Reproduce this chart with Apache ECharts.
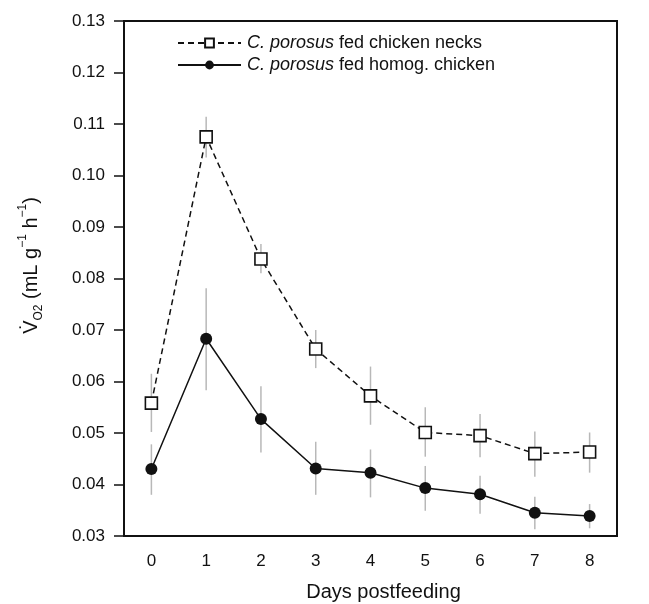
<!DOCTYPE html>
<html>
<head>
<meta charset="utf-8">
<script src="https://cdn.jsdelivr.net/npm/echarts@6/dist/echarts.min.js"></script>
<style>
html, body { margin: 0; padding: 0; background: #fff; }
#chart { width: 649px; height: 604px; }
</style>
</head>
<body>
<div id="chart"></div>
<script>
// days after feeding
var days = ['0', '1', '2', '3', '4', '5', '6', '7', '8'];

// C. porosus fed chicken necks
var necks = [0.0558, 0.1075, 0.0838, 0.0663, 0.0572, 0.0501, 0.0495, 0.0460, 0.0463];
var necksLow = [0.0502, 0.1035, 0.0810, 0.0626, 0.0516, 0.0454, 0.0453, 0.0415, 0.0423];
var necksHigh = [0.0615, 0.1114, 0.0867, 0.0700, 0.0629, 0.0550, 0.0537, 0.0503, 0.0501];

// C. porosus fed homogenised chicken
var homog = [0.0430, 0.0683, 0.0527, 0.0431, 0.0423, 0.0393, 0.0381, 0.0345, 0.0339];
var homogLow = [0.0380, 0.0583, 0.0462, 0.0380, 0.0375, 0.0349, 0.0343, 0.0313, 0.0315];
var homogHigh = [0.0478, 0.0781, 0.0591, 0.0483, 0.0468, 0.0436, 0.0417, 0.0376, 0.0362];

var FONT = 'Liberation Sans';

function errData(low, high) {
    var out = [];
    for (var i = 0; i < low.length; i++) {
        out.push([i, low[i], high[i]]);
    }
    return out;
}

function renderErr(params, api) {
    var p1 = api.coord([api.value(0), api.value(1)]);
    var p2 = api.coord([api.value(0), api.value(2)]);
    return {
        type: 'line',
        shape: { x1: p1[0], y1: p1[1], x2: p2[0], y2: p2[1] },
        style: { stroke: '#b8b8b8', lineWidth: 1.5 }
    };
}

var option = {
    animation: false,
    backgroundColor: '#fff',
    grid: {
        left: 124,
        right: 32,
        top: 21,
        bottom: 68,
        outerBoundsMode: 'none',
        containLabel: false,
        show: true,
        borderColor: '#111',
        borderWidth: 2
    },
    legend: {
        data: ['necks', 'homog'],
        orient: 'vertical',
        left: 172,
        top: 29,
        itemWidth: 63,
        itemHeight: 11,
        itemGap: 4,
        textStyle: {
            fontFamily: FONT,
            fontSize: 18,
            color: '#111',
            padding: [0, 0, 0, 1],
            rich: {
                i: { fontFamily: FONT, fontSize: 18, fontStyle: 'italic', color: '#111' },
                n: { fontFamily: FONT, fontSize: 18, color: '#111' }
            }
        },
        formatter: function (name) {
            if (name === 'necks') return '{i|C. porosus}{n| fed chicken necks}';
            return '{i|C. porosus}{n| fed homog. chicken}';
        }
    },
    xAxis: {
        type: 'category',
        data: days,
        boundaryGap: true,
        name: 'Days postfeeding',
        nameLocation: 'middle',
        nameGap: 46,
        nameTextStyle: { fontFamily: FONT, fontSize: 20, color: '#111', padding: [0, 0, 0, 26] },
        axisLine: { lineStyle: { color: '#111', width: 2 } },
        axisTick: { alignWithLabel: true, length: 10, lineStyle: { color: '#111', width: 1.5 } },
        axisLabel: { fontFamily: FONT, fontSize: 17, color: '#111', margin: 17 },
        splitLine: { show: false }
    },
    yAxis: {
        type: 'value',
        min: 0.03,
        max: 0.13,
        interval: 0.01,
        name: '{t|V̇}{sub|O2}{t| (mL g}{sup|−1}{t| h}{sup|−1}{t|)}',
        nameLocation: 'middle',
        nameRotate: 90,
        nameGap: 79,
        nameTextStyle: {
            fontFamily: FONT,
            fontSize: 20,
            color: '#111',
            padding: [0, 0, 0, 26],
            rich: {
                t: { fontFamily: FONT, fontSize: 20, color: '#111', lineHeight: 28, verticalAlign: 'middle' },
                sub: { fontFamily: FONT, fontSize: 12, color: '#111', lineHeight: 28, verticalAlign: 'bottom' },
                sup: { fontFamily: FONT, fontSize: 12, color: '#111', lineHeight: 28, verticalAlign: 'top' }
            }
        },
        axisLine: { show: true, lineStyle: { color: '#111', width: 2 } },
        axisTick: { show: true, length: 10, lineStyle: { color: '#111', width: 1.5 } },
        axisLabel: {
            fontFamily: FONT,
            fontSize: 17,
            color: '#111',
            margin: 19,
            formatter: function (v) { return v.toFixed(2); }
        },
        splitLine: { show: false }
    },
    series: [
        {
            name: 'necksErr',
            type: 'custom',
            renderItem: renderErr,
            data: errData(necksLow, necksHigh),
            z: 1,
            silent: true
        },
        {
            name: 'homogErr',
            type: 'custom',
            renderItem: renderErr,
            data: errData(homogLow, homogHigh),
            z: 1,
            silent: true
        },
        {
            name: 'necks',
            type: 'line',
            data: necks,
            z: 3,
            symbol: 'rect',
            symbolSize: 12,
            showAllSymbol: true,
            lineStyle: { color: '#111', width: 1.5, type: [6, 4] },
            itemStyle: { color: '#fff', borderColor: '#111', borderWidth: 1.6 }
        },
        {
            name: 'homog',
            type: 'line',
            data: homog,
            z: 3,
            symbol: 'circle',
            symbolSize: 12,
            showAllSymbol: true,
            lineStyle: { color: '#111', width: 1.5 },
            itemStyle: { color: '#111', borderColor: '#111', borderWidth: 0 }
        }
    ]
};

var myChart = echarts.init(document.getElementById('chart'));
myChart.setOption(option);
</script>
</body>
</html>
